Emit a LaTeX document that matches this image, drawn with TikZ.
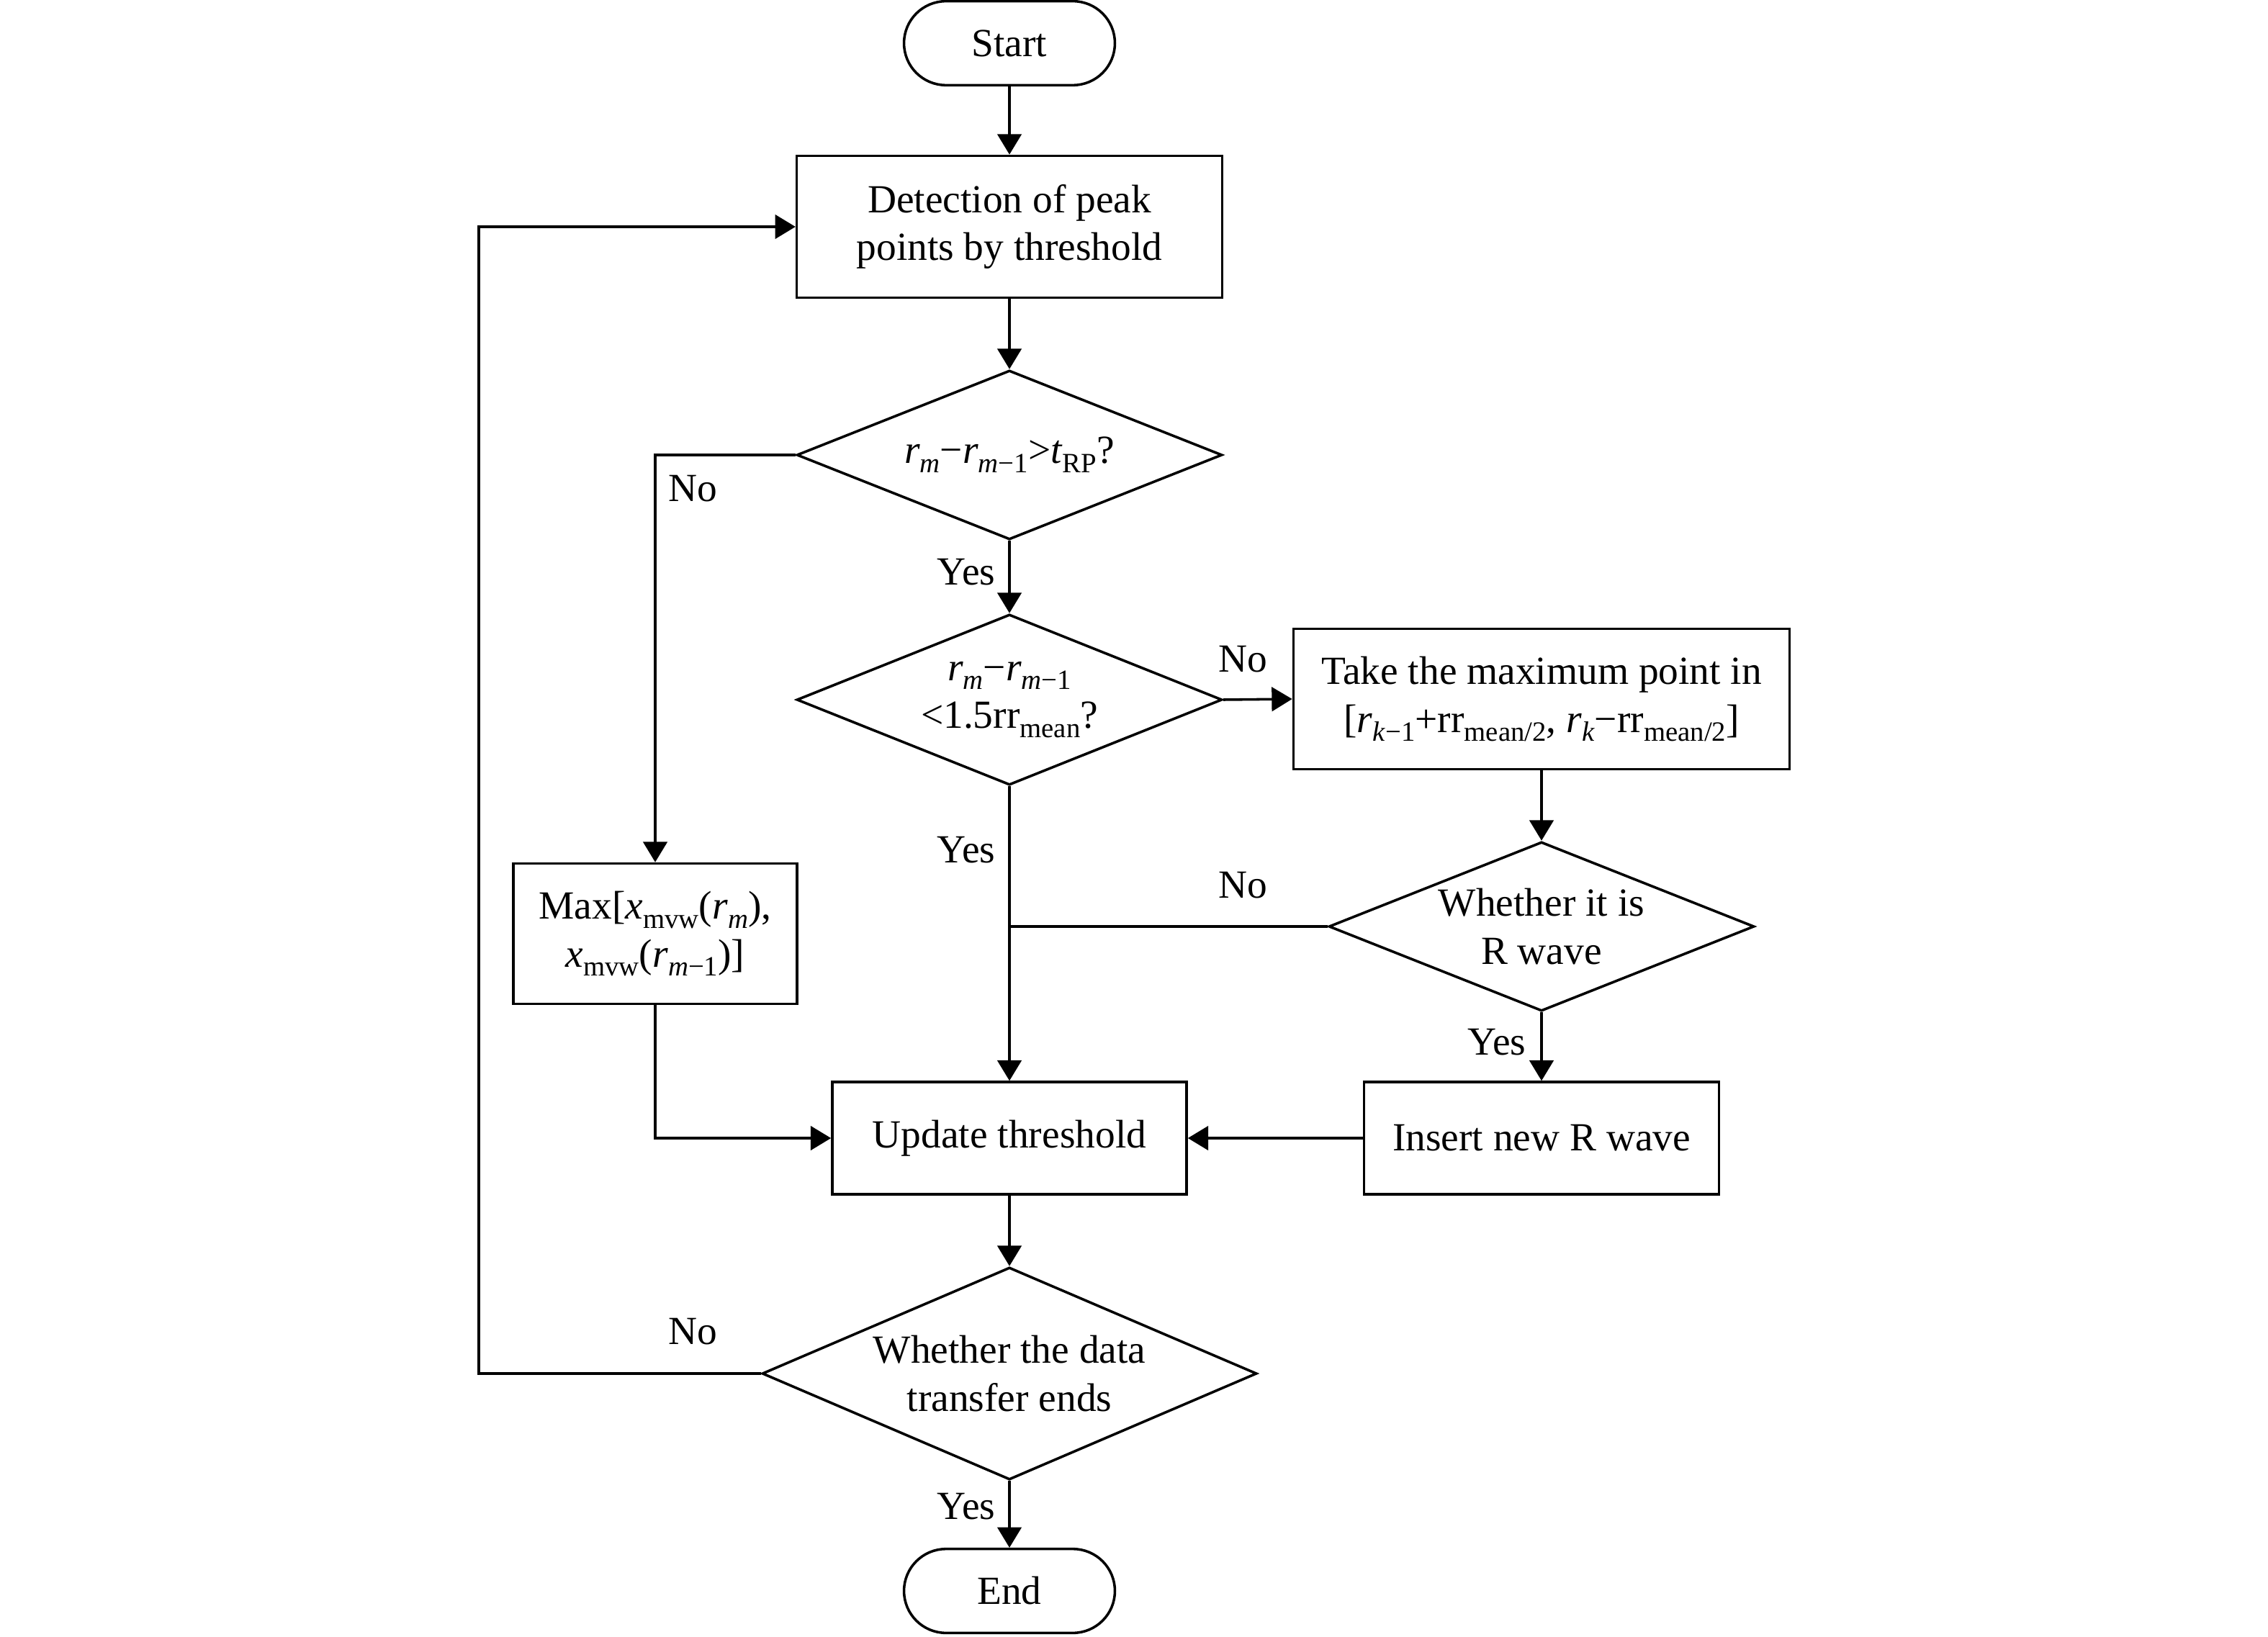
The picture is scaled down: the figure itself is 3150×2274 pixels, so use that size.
\documentclass[tikz,border=0pt]{standalone}
\usepackage{fontspec}
\setmainfont{Liberation Serif}
\usetikzlibrary{shapes.geometric,arrows.meta}
\newcommand\lsub[1]{\raisebox{-0.5ex}{\fontsize{9.3}{10}\selectfont #1}}
\newcommand\vr{\textit{r}}
\begin{document}
\begin{tikzpicture}[x=0.24pt,y=-0.24pt,
  every node/.style={font=\fontsize{13.3}{16}\selectfont},
  base/.style={draw,line width=0.85pt,align=center},
  boxs/.style={base,rectangle,inner sep=0pt},
  term/.style={base,rectangle,rounded corners=14pt,minimum width=70.3pt,minimum height=28pt,inner sep=0pt},
  dia/.style={base,diamond,inner sep=-2pt},
  lbl/.style={inner sep=0pt},
  arr/.style={line width=0.85pt,-{Triangle[width=8pt,length=6.8pt]}},
  ln/.style={line width=0.85pt}]
\useasboundingbox (0,0) rectangle (3150,2274);
\node[term] (start) at (1402,60) {Start};
\node[boxs,minimum width=141.8pt,minimum height=47.3pt] (det) at (1402,315) {Detection of peak\\points by threshold};
\node[dia,aspect=2.51,minimum width=141.8pt,minimum height=56.4pt] (d1) at (1402,632)
  {\vr\lsub{\textit{m}}−\vr\lsub{\textit{m}−1}>\textit{t}\lsub{RP}?};
\node[dia,aspect=2.51,minimum width=141.8pt,minimum height=56.9pt] (d2) at (1402,972)
  {\vr\lsub{\textit{m}}−\vr\lsub{\textit{m}−1}\\<1.5rr\lsub{mean}?};
\node[boxs,minimum width=165.4pt,minimum height=46.8pt] (rbox) at (2141,971)
  {Take the maximum point in\\{}[\vr\lsub{\textit{k}−1}+rr\lsub{mean/2}, \vr\lsub{\textit{k}}−rr\lsub{mean/2}]};
\node[dia,aspect=2.51,minimum width=141.8pt,minimum height=56.4pt] (d3) at (2141,1287) {Whether it is\\R wave};
\node[boxs,minimum width=118.3pt,minimum height=37.4pt] (ins) at (2141,1581) {Insert new R wave};
\node[boxs,minimum width=118.1pt,minimum height=37.4pt] (upd) at (1402,1581) {Update threshold};
\node[boxs,minimum width=94.6pt,minimum height=46.8pt] (mx) at (910,1297)
  {Max[\textit{x}\lsub{mvw}(\vr\lsub{\textit{m}}),\\\textit{x}\lsub{mvw}(\vr\lsub{\textit{m}−1})]};
\node[dia,aspect=2.33,minimum width=164.9pt,minimum height=70.8pt] (d4) at (1402,1908) {Whether the data\\transfer ends};
\node[term] (end) at (1402,2210) {End};
\coordinate (lp) at (665,1908);
\coordinate (jn) at (1402,1287);
% connectors
\draw[arr] (start.south) -- (det.north);
\draw[arr] (det.south) -- (d1.north);
\draw[arr] (d1.south) -- (d2.north);
\draw[arr] (d2.east) -- (rbox.west);
\draw[arr] (rbox.south) -- (d3.north);
\draw[arr] (d3.south) -- (ins.north);
\draw[arr] (ins.west) -- (upd.east);
\draw[arr] (d2.south) -- (upd.north);
\draw[ln] (d3.west) -- (jn);
\draw[arr] (d1.west) -| (mx.north);
\draw[arr] (mx.south) |- (upd.west);
\draw[arr] (upd.south) -- (d4.north);
\draw[arr] (d4.south) -- (end.north);
\draw[arr] (d4.west) -- (lp) |- (det.west);
% labels
\node[lbl] (l1) at (962,679) {No};
\node[lbl] (l2) at (1342,795) {Yes};
\node[lbl] (l3) at (1726,916) {No};
\node[lbl] (l4) at (1342,1181) {Yes};
\node[lbl] (l5) at (1726,1230) {No};
\node[lbl] (l6) at (2079,1448) {Yes};
\node[lbl] (l7) at (962,1850) {No};
\node[lbl] (l8) at (1342,2093) {Yes};
\end{tikzpicture}
\end{document}
